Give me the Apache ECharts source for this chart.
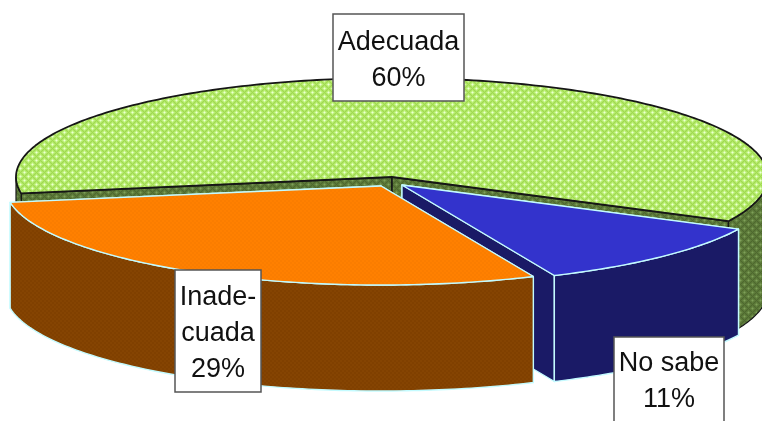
<!DOCTYPE html>
<html>
<head>
<meta charset="utf-8">
<style>html,body{margin:0;padding:0;background:#fff;overflow:hidden}#c{width:762px;height:421px}</style>
<script src="https://cdn.jsdelivr.net/npm/echarts@6/dist/echarts.min.js"></script>
</head>
<body>
<div id="c"></div>
<script>
const categories = ['Adecuada', 'No sabe', 'Inadecuada'];
const labelTexts = ['Adecuada', 'No sabe', 'Inade-\ncuada'];
const shares = [60, 11, 29];

const startAngle = 170.5;
const radiusX = 376, radiusY = 99;
const apexes = [[392, 177], [402, 185], [381, 186]];
const depths = [113, 106, 106];
const edgeColors = ['#161616', '#c4fbff', '#c4fbff'];
const labelBoxes = [[333, 14, 131, 87, 398.5, 61], [614, 337, 110, 90, 669, 382], [175, 270, 86, 122, 218, 334]];

function tile(size, base, paint) {
  const cv = document.createElement('canvas');
  cv.width = cv.height = size;
  const g = cv.getContext('2d');
  g.fillStyle = base; g.fillRect(0, 0, size, size);
  paint(g);
  return { image: cv, repeat: 'repeat' };
}
function lattice(shades) {
  return tile(8, shades[2], g => {
    for (let x = 0; x < 8; x++) for (let y = 0; y < 8; y++) {
      const u = (x + y) % 8, v = (x - y + 8) % 8;
      const m = Math.max(Math.abs(u - 4), Math.abs(v - 4));
      g.fillStyle = shades[m];
      g.fillRect(x, y, 1, 1);
    }
  });
}
function dither(base, spot) {
  return tile(4, base, g => {
    g.fillStyle = spot; g.fillRect(0, 0, 2, 2); g.fillRect(2, 2, 2, 2);
  });
}
const topFills = [
  lattice(['#ecffd8', '#d6fba6', '#bcef78', '#b0e666', '#a0da50']),
  '#3333cc',
  dither('#ff8000', '#fa7d00')
];
const wallFills = [
  lattice(['#7f9f5a', '#6f8f4a', '#5f7d3c', '#5a7737', '#4e682f']),
  '#1a1a66',
  dither('#804000', '#854402')
];

const rad = d => d * Math.PI / 180;
function sweep(i) {
  const total = shares.reduce((a, b) => a + b, 0);
  const before = shares.slice(0, i).reduce((a, b) => a + b, 0);
  return [startAngle + before / total * 360, startAngle + (before + shares[i]) / total * 360];
}
function rim(c, a) {
  return [c[0] + radiusX * Math.cos(rad(a)), c[1] + radiusY * Math.sin(rad(a))];
}
function arcPoints(c, a0, a1) {
  const pts = [];
  for (let a = a0; a < a1; a += 1) pts.push(rim(c, a));
  pts.push(rim(c, a1));
  return pts;
}
function down(p, d) { return [p[0], p[1] + d]; }

function renderItem(params, api) {
  const i = params.dataIndex;
  const c = apexes[i], d = depths[i];
  const [a0, a1] = sweep(i);
  const stroke = edgeColors[i];
  const children = [];
  const poly = (points, fill, w) => children.push({
    type: 'polygon', shape: { points },
    style: { fill, stroke, lineWidth: w, lineJoin: 'round' }, silent: true
  });
  [a0, a1].forEach(a => {
    const r = rim(c, a);
    poly([c, r, down(r, d), down(c, d)], wallFills[i], i === 0 ? 1.6 : 1.4);
  });
  [[0, 180], [360, 540]].forEach(([f0, f1]) => {
    const s = Math.max(a0, f0), e = Math.min(a1, f1);
    if (e > s) {
      const arc = arcPoints(c, s, e);
      poly(arc.concat(arc.map(p => down(p, d)).reverse()), wallFills[i], i === 0 ? 1.2 : 1.4);
    }
  });
  poly([c].concat(arcPoints(c, a0, a1)), topFills[i], i === 0 ? 1.8 : 1.4);
  return { type: 'group', children };
}

function renderLabel(params, api) {
  const i = params.dataIndex;
  const b = labelBoxes[i];
  return {
    type: 'group',
    children: [
      { type: 'rect', shape: { x: b[0], y: b[1], width: b[2], height: b[3] },
        style: { fill: '#fff', stroke: '#555', lineWidth: 1.5 }, silent: true },
      { type: 'text',
        style: { x: b[4], y: b[5], text: labelTexts[i] + '\n' + api.value(1) + '%',
          fontFamily: '"Liberation Sans", Arial, sans-serif', fontSize: 27, lineHeight: 36,
          fill: '#111', align: 'center', verticalAlign: 'middle' }, silent: true }
    ]
  };
}

const chart = echarts.init(document.getElementById('c'), null, { renderer: 'canvas' });
const seriesData = shares.map((v, i) => ({ name: categories[i], value: [i, v] }));
chart.setOption({
  animation: false,
  backgroundColor: '#ffffff',
  series: [
    { type: 'custom', coordinateSystem: 'none', data: seriesData, renderItem, silent: true, z: 1 },
    { type: 'custom', coordinateSystem: 'none', data: seriesData, renderItem: renderLabel, silent: true, z: 2 }
  ]
});
</script>
</body>
</html>
